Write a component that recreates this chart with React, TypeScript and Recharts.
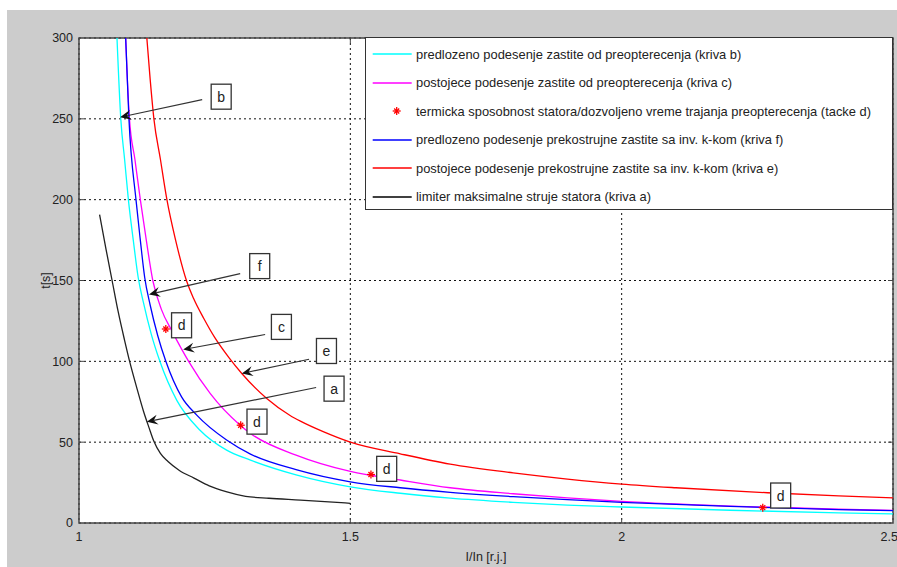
import {
  ComposedChart,
  Line,
  Scatter,
  XAxis,
  YAxis,
  CartesianGrid,
  Legend,
  ReferenceArea,
  ReferenceDot,
  ReferenceLine,
} from 'recharts';

// I/In [r.j.] on x, t[s] on y
// kriva b (cyan)
const bX = [1.07, 1.077, 1.084, 1.091, 1.1, 1.109, 1.119, 1.133, 1.149, 1.18, 1.223, 1.272, 1.316, 1.4, 1.5, 1.592, 1.684, 1.8, 1.9, 2.0, 2.2, 2.4, 2.5];
const bT = [300, 250, 225, 200, 175, 152, 136, 117, 100, 76, 57.4, 45.1, 38.9, 29.8, 22.4, 18.4, 15.4, 12.8, 11.1, 9.9, 7.9, 6.3, 5.6];

// kriva c (magenta)
const cX = [1.086, 1.089, 1.093, 1.103, 1.113, 1.124, 1.136, 1.152, 1.171, 1.202, 1.242, 1.297, 1.316, 1.4, 1.5, 1.592, 1.684, 1.8, 1.9, 2.0, 2.2, 2.4, 2.5];
const cT = [300, 275, 250, 225, 200, 175, 150, 132, 119, 100, 80, 60.5, 55.4, 42, 31.9, 26.6, 21.8, 18.1, 15.5, 13.4, 10.5, 8.5, 7.8];

// kriva f (blue)
const fX = [1.086, 1.092, 1.105, 1.113, 1.121, 1.131, 1.145, 1.16, 1.189, 1.217, 1.272, 1.316, 1.4, 1.5, 1.592, 1.684, 1.8, 1.9, 2.0, 2.2, 2.4, 2.5];
const fT = [300, 250, 200, 175, 152, 135, 116, 100, 78, 66.7, 51.3, 42.6, 33, 25.5, 21.8, 19, 16.3, 14.4, 12.8, 10.3, 8.3, 7.6];

// kriva e (red)
const eX = [1.125, 1.131, 1.138, 1.15, 1.162, 1.178, 1.198, 1.211, 1.23, 1.25, 1.277, 1.3, 1.346, 1.389, 1.408, 1.45, 1.5, 1.592, 1.684, 1.8, 1.9, 2.0, 2.1, 2.269, 2.4, 2.5];
const eT = [300, 275, 250, 225, 200, 175, 150, 139, 126.5, 114.8, 102, 92.5, 77, 66.5, 63, 56.5, 50, 42.8, 36.4, 31, 27.2, 24.1, 21.8, 18.7, 16.8, 15.6];

// kriva a (black)
const aX = [1.038, 1.05, 1.061, 1.072, 1.084, 1.094, 1.107, 1.119, 1.129, 1.138, 1.15, 1.164, 1.185, 1.212, 1.24, 1.271, 1.307, 1.35, 1.408, 1.5];
const aT = [190.7, 169, 150, 131, 113, 99, 83, 69, 59, 50.5, 43, 38, 32.5, 27.8, 23, 19.4, 16.5, 15.3, 14.2, 12.2];

// tacke d
const dX = [1.16, 1.298, 1.538, 2.26];
const dT = [120, 60.5, 30, 9.5];

const xTicks = [1, 1.5, 2, 2.5];
const yTicks = [0, 50, 100, 150, 200, 250, 300];

const legendNames = [
  'predlozeno podesenje zastite od preopterecenja (kriva b)',
  'postojece podesenje zastite od preopterecenja (kriva c)',
  'termicka sposobnost statora/dozvoljeno vreme trajanja preopterecenja (tacke d)',
  'predlozeno podesenje prekostrujne zastite sa inv. k-kom (kriva f)',
  'postojece podesenje prekostrujne zastite sa inv. k-kom (kriva e)',
  'limiter maksimalne struje statora (kriva a)',
];
const legendColors = ['#00ffff', '#ff00ff', '#ff0000', '#0000ff', '#ff0000', '#000000'];

// text boxes on the plot (data coordinates)
const boxText = ['b', 'f', 'd', 'c', 'e', 'a', 'd', 'd', 'd'];
const boxX = [1.262, 1.333, 1.189, 1.373, 1.456, 1.47, 1.328, 1.567, 2.293];
const boxT = [263.7, 158.9, 122.3, 121.3, 106.4, 83.1, 62.7, 33.5, 17];

// arrows: from (x0,t0) to tip (x1,t1)
const arrowFrom = [[1.227, 261.9], [1.297, 154.2], [1.343, 116.6], [1.424, 101.3], [1.437, 83.8]];
const arrowTo = [[1.0757, 251], [1.129, 141.4], [1.192, 107.3], [1.3, 92.5], [1.125, 62.6]];

// inner tick length, in axis units
const tickLenX = 0.0092;
const tickLenY = 3.1;

const zip = (xs: number[], ts: number[]) => xs.map((x, i) => ({ x, y: ts[i] }));

const curveB = zip(bX, bT);
const curveC = zip(cX, cT);
const curveF = zip(fX, fT);
const curveE = zip(eX, eT);
const curveA = zip(aX, aT);
const pointsD = zip(dX, dT);

const innerX = xTicks.slice(1, -1);
const innerY = yTicks.slice(1, -1);
const tickSegments = [
  ...innerX.map((x) => [{ x, y: 0 }, { x, y: tickLenY }]),
  ...innerX.map((x) => [{ x, y: 300 }, { x, y: 300 - tickLenY }]),
  ...innerY.map((y) => [{ x: 1, y }, { x: 1 + tickLenX, y }]),
  ...innerY.map((y) => [{ x: 2.5, y }, { x: 2.5 - tickLenX, y }]),
];

function Star(props: any) {
  const { cx, cy } = props;
  return (
    <g stroke="#ff0000" strokeWidth={1.3}>
      <line x1={cx - 4} y1={cy} x2={cx + 4} y2={cy} />
      <line x1={cx} y1={cy - 4} x2={cx} y2={cy + 4} />
      <line x1={cx - 2.5} y1={cy - 2.5} x2={cx + 2.5} y2={cy + 2.5} />
      <line x1={cx - 2.5} y1={cy + 2.5} x2={cx + 2.5} y2={cy - 2.5} />
    </g>
  );
}

function Arrow(props: any) {
  const { x1, y1, x2, y2 } = props;
  const dx = x2 - x1;
  const dy = y2 - y1;
  const len = Math.hypot(dx, dy) || 1;
  const ux = dx / len;
  const uy = dy / len;
  const px = -uy;
  const py = ux;
  const L = 11;
  const W = 5;
  const N = 7;
  const bx = x2 - ux * L;
  const by = y2 - uy * L;
  const nx = x2 - ux * N;
  const ny = y2 - uy * N;
  const pts = `${x2},${y2} ${bx + px * W},${by + py * W} ${nx},${ny} ${bx - px * W},${by - py * W}`;
  return (
    <g>
      <line x1={x1} y1={y1} x2={nx} y2={ny} stroke="#333" strokeWidth={1.2} />
      <polygon points={pts} fill="#111" />
    </g>
  );
}

function makeBox(text: string) {
  return (props: any) => {
    const { cx, cy } = props;
    return (
      <g>
        <rect x={cx - 10} y={cy - 12.5} width={20} height={25} fill="#fff" stroke="#333" strokeWidth={1.3} />
        <text x={cx} y={cy + 5} textAnchor="middle" fontSize={14} fill="#222">
          {text}
        </text>
      </g>
    );
  };
}

function LegendBox() {
  return (
    <div
      style={{
        width: 528,
        height: 173,
        boxSizing: 'border-box',
        border: '1px solid #333',
        background: '#fff',
        paddingTop: 2,
      }}
    >
      {legendNames.map((name, i) => (
        <div key={name} style={{ display: 'flex', alignItems: 'center', height: 28.5 }}>
          <svg width={50} height={10} style={{ flex: 'none' }}>
            {i === 2 ? (
              <Star cx={30.7} cy={5} />
            ) : (
              <line x1={6.7} y1={5} x2={45.7} y2={5} stroke={legendColors[i]} strokeWidth={1.3} />
            )}
          </svg>
          <span style={{ fontSize: 12.9, color: '#222', whiteSpace: 'nowrap' }}>{name}</span>
        </div>
      ))}
    </div>
  );
}

export default function App() {
  return (
    <div
      style={{
        position: 'absolute',
        left: 0,
        top: 0,
        width: 897,
        height: 567,
        background: '#fff',
        overflow: 'hidden',
        fontFamily: '"Liberation Sans", Arial, sans-serif',
      }}
    >
      <div style={{ position: 'absolute', left: 7, top: 10, width: 890, height: 557, background: '#cccccc' }} />
      <ComposedChart
        width={897}
        height={567}
        margin={{ top: 38, right: 4, bottom: 0, left: 7 }}
        style={{ position: 'absolute', left: 0, top: 0 }}
      >
        <CartesianGrid strokeDasharray="2 3" stroke="#111" fill="#fff" fillOpacity={1} />
        <XAxis
          dataKey="x"
          type="number"
          domain={[1, 2.5]}
          ticks={xTicks}
          allowDataOverflow
          height={44}
          axisLine={false}
          tickLine={false}
          tickSize={6}
          tickMargin={3}
          tick={{ fontSize: 12.5, fill: '#222' }}
          label={{ value: 'I/In [r.j.]', position: 'center', dy: 12, fontSize: 12.5, fill: '#222' }}
        />
        <YAxis
          dataKey="y"
          type="number"
          domain={[0, 300]}
          ticks={yTicks}
          allowDataOverflow
          width={72}
          axisLine={false}
          tickLine={false}
          tickSize={4}
          tickMargin={2}
          tick={{ fontSize: 12.5, fill: '#222' }}
          label={{ value: 't[s]', angle: -90, position: 'center', dx: 3, fontSize: 12.5, fill: '#222' }}
        />
        {tickSegments.map((seg, i) => (
          <ReferenceLine key={`tick-${i}`} segment={seg} stroke="#444" strokeWidth={1} />
        ))}
        <ReferenceArea x1={1} x2={2.5} y1={0} y2={300} fill="none" stroke="#444" strokeWidth={1.5} />
        <Line data={curveB} dataKey="y" type="monotone" stroke="#00ffff" strokeWidth={1.3} dot={false} isAnimationActive={false} />
        <Line data={curveC} dataKey="y" type="monotone" stroke="#ff00ff" strokeWidth={1.3} dot={false} isAnimationActive={false} />
        <Line data={curveF} dataKey="y" type="monotone" stroke="#0000ff" strokeWidth={1.3} dot={false} isAnimationActive={false} />
        <Line data={curveE} dataKey="y" type="monotone" stroke="#ff0000" strokeWidth={1.3} dot={false} isAnimationActive={false} />
        <Line data={curveA} dataKey="y" type="monotone" stroke="#222" strokeWidth={1.3} dot={false} isAnimationActive={false} />
        <Scatter data={pointsD} dataKey="y" shape={Star} isAnimationActive={false} />
        {arrowFrom.map((p, i) => (
          <ReferenceLine
            key={`arrow-${i}`}
            segment={[
              { x: p[0], y: p[1] },
              { x: arrowTo[i][0], y: arrowTo[i][1] },
            ]}
            shape={Arrow}
          />
        ))}
        {boxText.map((txt, i) => (
          <ReferenceDot key={`box-${i}`} x={boxX[i]} y={boxT[i]} r={10} shape={makeBox(txt)} />
        ))}
        <Legend
          layout="vertical"
          align="center"
          verticalAlign="middle"
          content={<LegendBox />}
          wrapperStyle={{ position: 'absolute', left: 365, top: 37, width: 528, height: 173 }}
        />
      </ComposedChart>
    </div>
  );
}
